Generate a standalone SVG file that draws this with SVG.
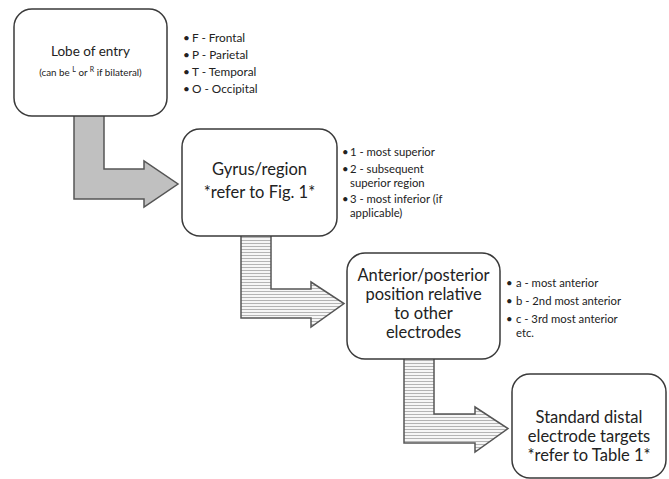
<svg xmlns="http://www.w3.org/2000/svg" width="669" height="479" viewBox="0 0 669 479">
<style>
.box{fill:#fff;stroke:#3a3a3a;stroke-width:1.5}
.arr{stroke:#555;stroke-width:1.5;stroke-linejoin:miter}
.t{font-family:Lato,"Liberation Sans",sans-serif;fill:#222;text-anchor:middle}
.big{font-size:16.5px}
.b{font-family:Lato,"Liberation Sans",sans-serif;fill:#222;font-size:11.8px}
.s{font-size:11.3px}
</style>
<defs>
<pattern id="stripes" patternUnits="userSpaceOnUse" width="6" height="3">
<rect width="6" height="3" fill="#f6f6f6"/>
<rect y="0" width="6" height="1" fill="#b4b4b4"/>
</pattern>
</defs>
<rect width="669" height="479" fill="#fff"/>
<g id="connectors">
<path class="arr" fill="#c0c0c0" d="M74,116 V199 H144 V207 L178,184 L144,161 V169 H104 V116"/>
<path class="arr" fill="url(#stripes)" d="M241,236 V318 H311 V327 L344,303.5 L311,282 V289 H271 V236"/>
<path class="arr" fill="url(#stripes)" d="M404,359 V443 H475 V452 L508,428.5 L475,407 V414 H434 V359"/>
</g>
<g id="node-lobe">
<rect class="box" x="14" y="9" width="153" height="107" rx="18"/>
<text class="t" x="90.5" y="56" font-size="13.5">Lobe of entry</text>
<text class="t" x="90.5" y="76" font-size="9.8">(can be <tspan font-size="7" dy="-4">L</tspan><tspan dy="4"> or </tspan><tspan font-size="7" dy="-4">R</tspan><tspan dy="4"> if bilateral)</tspan></text>
</g>
<g id="list-lobe" class="b">
<text x="183" y="42">•</text><text x="192" y="42">F - Frontal</text>
<text x="183" y="59">•</text><text x="192" y="59">P - Parietal</text>
<text x="183" y="76">•</text><text x="192" y="76">T - Temporal</text>
<text x="183" y="93">•</text><text x="192" y="93">O - Occipital</text>
</g>
<g id="node-gyrus">
<rect class="box" x="182" y="129" width="155" height="107" rx="18"/>
<text class="t big" x="259.5" y="175">Gyrus/region</text>
<text class="t big" x="259.5" y="198">*refer to Fig. 1*</text>
</g>
<g id="list-gyrus" class="b s">
<text x="342" y="156">•</text><text x="350" y="156">1 - most superior</text>
<text x="342" y="173">•</text><text x="350" y="173">2 - subsequent</text>
<text x="350" y="186.5">superior region</text>
<text x="342" y="203">•</text><text x="350" y="203">3 - most inferior (if</text>
<text x="350" y="217">applicable)</text>
</g>
<g id="node-position">
<rect class="box" x="347" y="253" width="153" height="106" rx="18"/>
<text class="t big" x="423.5" y="281">Anterior/posterior</text>
<text class="t big" x="423.5" y="300">position relative</text>
<text class="t big" x="423.5" y="319">to other</text>
<text class="t big" x="423.5" y="338">electrodes</text>
</g>
<g id="list-position" class="b s">
<text x="506" y="287">•</text><text x="516" y="287">a - most anterior</text>
<text x="506" y="305">•</text><text x="516" y="305">b - 2nd most anterior</text>
<text x="506" y="323">•</text><text x="516" y="323">c - 3rd most anterior</text>
<text x="516" y="336.5">etc.</text>
</g>
<g id="node-targets">
<rect class="box" x="512" y="374" width="154" height="104" rx="18"/>
<text class="t big" x="589" y="423">Standard distal</text>
<text class="t big" x="589" y="442">electrode targets</text>
<text class="t big" x="589" y="461">*refer to Table 1*</text>
</g>
</svg>
